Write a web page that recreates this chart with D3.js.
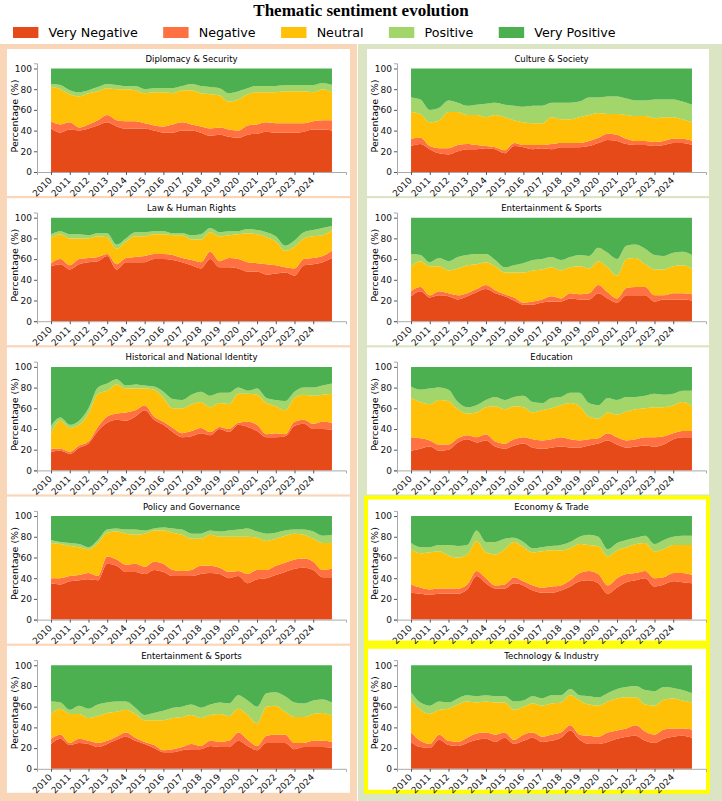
<!DOCTYPE html>
<html>
<head>
<meta charset="utf-8">
<script src="https://cdn.jsdelivr.net/npm/d3@7"></script>
<style>
  body { margin: 0; background: #fff; }
  text { font-family: "DejaVu Sans", sans-serif; }
</style>
</head>
<body>
<div id="chart"></div>
<script>
// half-year sample points
var periods = [2010, 2010.5, 2011, 2011.5, 2012, 2012.5, 2013, 2013.5, 2014, 2014.5,
  2015, 2015.5, 2016, 2016.5, 2017, 2017.5, 2018, 2018.5, 2019, 2019.5,
  2020, 2020.5, 2021, 2021.5, 2022, 2022.5, 2023, 2023.5, 2024, 2024.5, 2025];
var tickYears = [2010, 2011, 2012, 2013, 2014, 2015, 2016, 2017, 2018, 2019, 2020, 2021, 2022, 2023, 2024];
var yTicks = [0, 20, 40, 60, 80, 100];
var sentiments = ["Very Negative", "Negative", "Neutral", "Positive", "Very Positive"];
var colors = ["#e64a19", "#ff7043", "#ffc107", "#a2d56a", "#4caf50"];

// Diplomacy & Security
var dipVN  = [42,38,41,40,42,45,48,44,42,42,42,40,38,38,40,40,38,35,36,34,33,36,37,39,38,38,38,39,41,41,40];
var dipN   = [7,8,7,3,4,5,7,6,7,7,5,5,6,8,8,6,6,7,7,7,7,9,9,9,9,9,9,8,8,9,10];
var dipNeu = [33,34,27,30,30,28,26,30,31,30,29,32,33,30,31,33,32,33,31,27,30,30,31,29,30,31,31,31,28,30,27];
var dipPos = [3,4,4,4,3,4,4,4,3,4,4,4,4,5,4,6,7,7,7,8,8,6,6,6,6,6,6,6,7,6,7];
var dipVP  = [15,16,21,23,21,18,15,16,17,17,20,19,19,19,17,15,17,18,19,24,22,19,17,17,17,16,16,16,16,14,16];

// Law & Human Rights
var lawVN  = [53,55,50,55,57,58,63,50,57,57,57,60,60,59,57,54,51,60,52,52,51,48,48,45,46,47,44,54,55,57,61];
var lawN   = [3,5,4,5,4,4,2,5,4,5,6,5,5,5,4,5,6,7,6,9,9,9,8,10,8,5,7,6,6,6,7];
var lawNeu = [25,24,26,20,19,20,16,15,16,20,19,19,19,19,22,20,22,19,24,22,24,28,28,26,23,16,21,20,21,20,20];
var lawPos = [3,3,4,4,3,3,4,4,3,4,4,3,3,2,2,4,5,4,4,4,3,4,4,5,5,5,6,6,6,7,4];
var lawVP  = [16,13,16,16,17,15,15,26,20,14,14,13,13,15,15,17,16,10,14,13,13,11,12,14,18,27,22,14,12,10,8];

// Historical and National Identity
var hisVN  = [18,19,16,22,26,38,46,49,48,52,58,49,44,37,32,33,36,34,40,37,44,42,38,32,32,33,43,45,40,40,39];
var hisN   = [3,2,2,2,2,4,6,6,8,6,5,3,3,4,4,5,5,3,2,3,2,5,6,3,4,2,4,4,5,7,7];
var hisNeu = [15,27,23,20,27,32,25,28,23,21,16,26,23,19,24,26,25,24,23,24,28,27,29,30,26,23,23,24,27,26,28];
var hisPos = [7,3,3,4,5,6,7,5,3,4,3,3,6,9,8,9,10,11,10,11,6,3,6,5,6,9,6,7,8,9,10];
var hisVP  = [57,49,56,52,40,20,16,12,18,17,18,19,24,31,32,27,24,28,25,25,20,23,21,30,32,33,24,20,20,18,16];

// Policy and Governance
var polVN  = [35,34,37,38,39,38,54,52,46,46,44,48,46,42,42,42,44,45,44,40,42,35,39,40,43,46,49,50,48,41,41];
var polN   = [5,6,5,5,6,4,7,6,7,8,7,8,8,6,5,6,8,7,6,6,5,9,9,8,9,9,9,9,8,7,8];
var polNeu = [34,33,29,27,23,32,23,27,30,28,32,30,32,36,35,30,26,30,30,34,33,36,31,28,26,26,25,23,22,26,25];
var polPos = [3,2,3,3,2,3,3,3,4,5,3,2,3,4,5,5,5,4,5,6,7,8,6,7,6,5,4,5,7,7,8];
var polVP  = [23,25,26,27,30,23,13,12,13,13,14,12,11,12,13,17,17,14,15,14,13,12,15,17,16,14,13,13,15,19,18];

// Culture & Society
var culVN  = [25,27,22,18,17,20,22,22,23,22,18,25,24,22,23,22,24,24,24,25,28,31,30,27,26,26,25,26,28,28,26];
var culN   = [7,6,3,5,6,6,5,4,2,2,3,3,2,4,3,5,4,4,4,5,5,6,6,5,4,4,4,4,4,4,4];
var culNeu = [26,23,23,27,35,32,28,29,28,31,32,22,22,21,21,26,23,23,25,25,24,19,20,23,24,24,23,23,21,19,18];
var culPos = [14,14,12,12,11,9,9,10,13,12,12,14,15,17,17,14,16,16,15,17,15,17,17,16,15,15,18,17,17,17,17];
var culVP  = [28,30,40,38,31,33,36,35,34,33,35,36,37,36,36,33,33,33,32,28,28,27,27,29,31,31,30,30,30,32,35];

// Entertainment & Sports
var entVN  = [24,29,23,25,24,21,24,28,31,27,24,20,16,16,18,19,19,22,21,21,27,22,18,25,25,25,19,21,21,21,20];
var entN   = [5,4,2,4,3,4,3,3,4,3,2,3,2,3,3,5,3,5,5,6,8,6,4,7,8,8,6,4,6,6,6];
var entNeu = [24,25,28,24,22,26,27,24,22,23,21,24,29,30,29,28,27,25,27,24,23,24,22,28,28,22,25,25,26,27,25];
var entPos = [12,6,4,8,9,11,10,10,8,6,5,7,9,10,10,10,10,10,11,12,13,14,16,13,13,15,14,13,13,13,13];
var entVP  = [35,36,43,39,42,38,36,35,35,41,48,46,44,41,40,38,41,38,36,37,29,34,40,27,26,30,36,37,34,33,36];

// Education
var eduVN  = [19,21,23,19,20,27,30,27,29,23,21,24,26,22,21,22,23,22,22,24,26,29,25,22,23,24,23,25,30,32,32];
var eduN   = [13,10,6,6,5,4,4,5,6,5,5,6,6,8,8,8,9,8,7,6,5,7,7,7,7,8,9,8,6,6,6];
var eduNeu = [38,35,35,43,42,28,21,24,26,34,33,32,29,26,29,30,31,35,33,22,19,20,22,28,29,28,29,28,27,28,24];
var eduPos = [11,12,15,12,11,7,6,7,7,9,9,9,11,10,7,10,8,10,13,13,13,14,14,14,12,12,13,12,11,11,15];
var eduVP  = [19,22,21,20,22,34,39,37,32,29,32,29,28,34,35,30,29,25,25,35,37,30,32,29,29,28,26,27,26,23,23];

// Economy & Trade
var ecoVN  = [26,25,24,25,25,25,29,42,35,30,30,35,33,28,26,26,28,32,37,38,35,25,31,36,38,40,32,34,37,36,35];
var ecoN   = [8,6,5,5,5,5,5,5,5,3,4,6,4,5,5,6,5,6,8,9,9,8,9,8,7,7,8,7,8,9,8];
var ecoNeu = [34,33,36,36,32,30,29,29,25,30,34,34,33,32,35,35,34,31,28,25,27,28,27,26,28,27,26,27,27,27,29];
var ecoPos = [6,6,5,6,10,11,9,10,10,12,10,4,5,4,4,4,5,6,7,10,9,7,7,7,6,7,7,9,8,9,9];
var ecoVP  = [26,30,30,28,28,29,28,14,25,25,22,21,25,31,30,29,28,25,20,18,20,32,26,23,21,19,27,23,20,19,19];

// Technology & Industry
var tecVN  = [26,21,20,28,23,22,25,28,29,26,30,24,27,30,26,27,30,37,28,24,24,26,29,31,32,27,25,29,31,32,30];
var tecN   = [9,6,4,5,4,4,5,6,6,7,5,4,6,5,5,6,5,5,5,8,7,9,8,8,10,9,8,9,8,7,8];
var tecNeu = [32,30,29,24,31,36,35,30,30,31,29,29,27,28,30,30,29,29,33,30,30,30,31,30,27,26,28,29,29,27,26];
var tecPos = [7,7,8,8,6,6,6,6,6,6,6,8,6,7,7,8,7,6,5,8,8,8,9,10,11,14,14,12,10,10,9];
var tecVP  = [26,36,39,35,36,32,29,30,29,30,30,35,34,30,32,29,29,23,29,30,31,27,23,21,20,24,25,21,22,24,27];

var panels = [
  {title: "Diplomacy & Security", col: 0, row: 0, s: [dipVN, dipN, dipNeu, dipPos, dipVP]},
  {title: "Law & Human Rights", col: 0, row: 1, s: [lawVN, lawN, lawNeu, lawPos, lawVP]},
  {title: "Historical and National Identity", col: 0, row: 2, s: [hisVN, hisN, hisNeu, hisPos, hisVP]},
  {title: "Policy and Governance", col: 0, row: 3, s: [polVN, polN, polNeu, polPos, polVP]},
  {title: "Entertainment & Sports", col: 0, row: 4, s: [entVN, entN, entNeu, entPos, entVP]},
  {title: "Culture & Society", col: 1, row: 0, s: [culVN, culN, culNeu, culPos, culVP]},
  {title: "Entertainment & Sports", col: 1, row: 1, s: [entVN, entN, entNeu, entPos, entVP]},
  {title: "Education", col: 1, row: 2, s: [eduVN, eduN, eduNeu, eduPos, eduVP]},
  {title: "Economy & Trade", col: 1, row: 3, s: [ecoVN, ecoN, ecoNeu, ecoPos, ecoVP], hi: true},
  {title: "Technology & Industry", col: 1, row: 4, s: [tecVN, tecN, tecNeu, tecPos, tecVP], hi: true}
];

var W = 722, H = 801;
var svg = d3.select("#chart").append("svg")
  .attr("width", W)
  .attr("height", H);

svg.append("rect").attr("width", W).attr("height", H).attr("fill", "#fff");

// column backgrounds
svg.append("rect").attr("x", 0).attr("y", 44).attr("width", 357).attr("height", H - 44).attr("fill", "#fad6b8");
svg.append("rect").attr("x", 358).attr("y", 44).attr("width", 364).attr("height", H - 44).attr("fill", "#dbe5c3");

// title
svg.append("text")
  .attr("x", W / 2).attr("y", 16)
  .attr("text-anchor", "middle")
  .style("font-family", "'Liberation Serif', serif")
  .style("font-weight", "bold")
  .style("font-size", "17px")
  .text("Thematic sentiment evolution");

// legend, laid out like a one-row matplotlib legend
var em = 12.7;
var legend = svg.append("g");
var lx = 13;
sentiments.forEach(function(s, i) {
  legend.append("rect")
    .attr("x", lx).attr("y", 27)
    .attr("width", 2 * em).attr("height", 11)
    .attr("fill", colors[i]);
  var t = legend.append("text")
    .attr("x", lx + 2.8 * em).attr("y", 37)
    .style("font-size", em + "px")
    .text(s);
  lx += 2.8 * em + t.node().getComputedTextLength() + 2 * em;
});

var boxX = [7, 367], boxW = [343, 342];
var rowTop = 49, rowStep = 149.2, boxH = 147;

var stack = d3.stack().keys(sentiments);

panels.forEach(function(p) {
  var bx = boxX[p.col], by = rowTop + p.row * rowStep;
  var g = svg.append("g").attr("transform", "translate(" + bx + "," + by + ")");

  g.append("rect")
    .attr("width", boxW[p.col]).attr("height", boxH)
    .attr("fill", "#fff");
  if (p.hi) {
    g.append("rect")
      .attr("x", -1).attr("y", 1)
      .attr("width", boxW[p.col]).attr("height", boxH - 2)
      .attr("fill", "none")
      .attr("stroke", "#ffff00")
      .attr("stroke-width", 4);
  }

  var x = d3.scaleLinear().domain([2009.25, 2025.75]).range([30, 339]);
  var y = d3.scaleLinear().domain([0, 105]).range([123, 123 - 108.7]);

  var rows = periods.map(function(t, i) {
    var r = {period: t};
    sentiments.forEach(function(s, k) { r[s] = p.s[k][i]; });
    return r;
  });
  var layers = stack(rows);

  var area = d3.area()
    .curve(d3.curveMonotoneX)
    .x(function(d) { return x(d.data.period); })
    .y0(function(d) { return y(d[0]); })
    .y1(function(d) { return y(d[1]); });

  g.selectAll(".layer")
    .data(layers)
    .enter().append("path")
    .attr("class", "layer")
    .attr("fill", function(d, i) { return colors[i]; })
    .attr("d", area);

  // y axis
  var ya = g.append("g")
    .attr("transform", "translate(30,0)")
    .call(d3.axisLeft(y).tickValues(yTicks).tickSize(3).tickPadding(2));
  ya.select(".domain").attr("stroke", "#aaa");
  ya.selectAll(".tick line").attr("stroke", "#555");
  ya.selectAll("text").style("font-size", "9px").attr("fill", "#111");

  // x axis
  var xa = g.append("g")
    .attr("transform", "translate(0,123)")
    .call(d3.axisBottom(x).tickValues(tickYears).tickFormat(d3.format("d")).tickSize(3));
  xa.select(".domain").attr("stroke", "#aaa");
  xa.selectAll(".tick line").attr("stroke", "#555");
  xa.selectAll("text")
    .style("font-size", "9px")
    .attr("fill", "#111")
    .attr("text-anchor", "end")
    .attr("x", 0)
    .attr("y", 0)
    .attr("dy", 0)
    .attr("transform", "translate(1,9) rotate(-45)");

  // y label
  g.append("text")
    .attr("transform", "translate(8," + (123 - 56) + ") rotate(-90)")
    .attr("text-anchor", "middle")
    .attr("dy", "0.35em")
    .style("font-size", "9.5px")
    .text("Percentage (%)");

  // panel title
  g.append("text")
    .attr("x", (30 + 339) / 2).attr("y", 13)
    .attr("text-anchor", "middle")
    .style("font-size", "8.5px")
    .text(p.title);
});
</script>
</body>
</html>
